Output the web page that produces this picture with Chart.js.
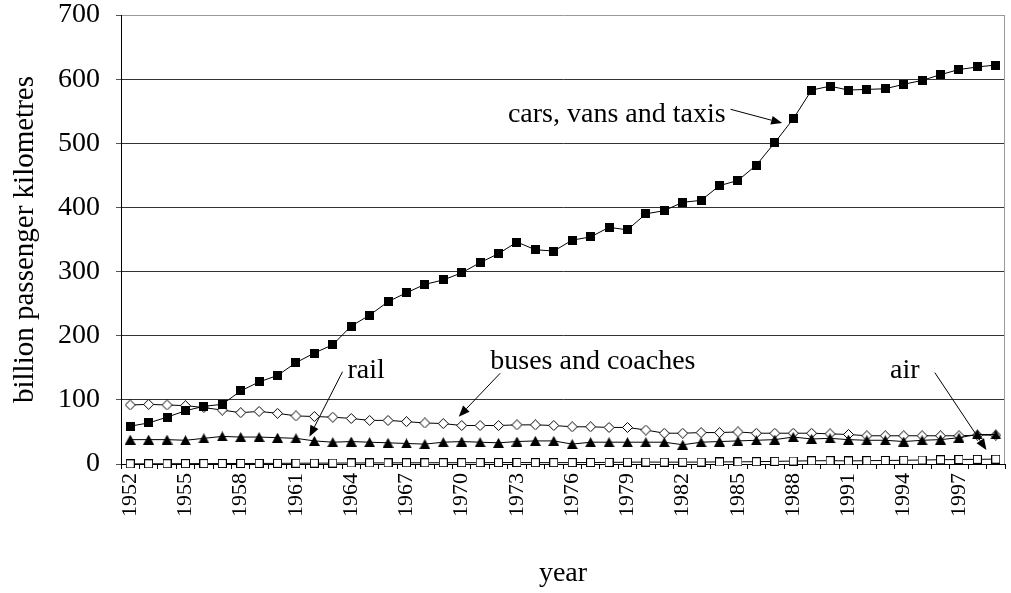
<!DOCTYPE html>
<html lang="en">
<head>
<meta charset="UTF-8">
<title>Passenger transport by mode, 1952-1999</title>
<script src="https://cdn.jsdelivr.net/npm/chart.js@4.4.0/dist/chart.umd.min.js"></script>
<style>
  html, body { margin: 0; padding: 0; background: #fff; }
  #wrap { width: 1011px; height: 593px; position: relative; }
</style>
</head>
<body>
<div id="wrap"><canvas id="chart"></canvas></div>
<script>
// years on the category axis
const years = [];
for (let y = 1952; y <= 1999; y++) years.push(String(y));
const tickYears = ['1952', '1955', '1958', '1961', '1964', '1967', '1970', '1973',
                   '1976', '1979', '1982', '1985', '1988', '1991', '1994', '1997'];

// billion passenger kilometres
const cars = [59, 64, 73, 83, 90, 93, 114, 128, 138, 158,
              173, 186, 215, 232, 253, 267, 280, 287, 298, 314,
              328, 346, 334, 332, 349, 354, 369, 365, 390, 395,
              408, 411, 434, 442, 466, 501, 538, 583, 589, 583,
              584, 585, 592, 598, 607, 615, 619, 622];
const buses = [92, 93, 92, 91, 88, 84, 80, 82, 79, 75,
               74, 73, 71, 68, 68, 66, 64, 63, 60, 60,
               60, 61, 61, 60, 58, 58, 57, 57, 53, 48,
               48, 49, 49, 50, 48, 48, 48, 48, 47, 46,
               44, 44, 44, 44, 44, 44, 45, 45];
const rail = [38, 38, 38, 37, 40, 43, 42, 42, 41, 40,
              36, 34, 35, 34, 33, 32, 31, 34, 35, 34,
              33, 35, 36, 36, 31, 34, 34, 34, 34, 34,
              30, 34, 35, 36, 37, 38, 42, 39, 40, 38,
              37, 37, 35, 37, 38, 41, 46, 46];
const air = [0.2, 0.3, 0.4, 0.5, 0.6, 0.7, 0.8, 0.9, 1.0, 1.2,
             1.3, 1.4, 1.6, 1.7, 1.8, 1.9, 1.9, 2.0, 2.0, 2.1,
             2.2, 2.3, 2.1, 2.1, 2.2, 2.3, 2.5, 2.8, 3.0, 2.9,
             2.9, 3.0, 3.2, 3.4, 3.6, 4.1, 4.6, 5.0, 5.2, 4.8,
             5.2, 5.5, 5.8, 6.2, 6.6, 7.0, 7.3, 7.6];

const FONT = "'Liberation Serif', 'Times New Roman', serif";

// labels with arrows, placed in (year index, value) coordinates
const notes = [
  { text: 'cars, vans and taxis', at: [32.33, 533.7], align: 'right', from: [32.6, 553], to: [35.4, 531.5] },
  { text: 'rail', at: [11.8, 133.6], align: 'left', from: [11.53, 143.9], to: [9.73, 42.6] },
  { text: 'buses and coaches', at: [19.55, 147.6], align: 'left', from: [20.09, 141.5], to: [17.84, 73.8] },
  { text: 'air', at: [41.26, 133.6], align: 'left', from: [43.69, 142.4], to: [46.49, 21.8] }
];

// small marker bitmaps
function marker(w, h, paint) {
  const c = document.createElement('canvas');
  c.width = w; c.height = h;
  paint(c.getContext('2d'), w, h);
  return c;
}
const squareFilled = marker(9, 9, (g, w, h) => { g.fillStyle = '#000'; g.fillRect(0, 0, w, h); });
const squareOpen = marker(9, 9, (g, w, h) => {
  g.fillStyle = '#fff'; g.fillRect(0, 0, w, h);
  g.strokeStyle = '#000'; g.lineWidth = 1; g.strokeRect(0.5, 0.5, w - 1, h - 1);
});
const diamondOpen = marker(11, 11, (g, w, h) => {
  g.beginPath();
  g.moveTo(w / 2, 0.5); g.lineTo(w - 0.5, h / 2); g.lineTo(w / 2, h - 0.5); g.lineTo(0.5, h / 2);
  g.closePath();
  g.fillStyle = '#fff'; g.fill();
  g.strokeStyle = '#000'; g.lineWidth = 1; g.stroke();
});
const triangleFilled = marker(11, 10, (g, w, h) => {
  g.beginPath(); g.moveTo(w / 2, 0); g.lineTo(w, h); g.lineTo(0, h); g.closePath();
  g.fillStyle = '#000'; g.fill();
});

const notesPlugin = {
  id: 'notes',
  afterDatasetsDraw(chart) {
    const { ctx, chartArea, scales: { x, y } } = chart;
    ctx.save();
    // right edge of the plot area
    ctx.strokeStyle = '#999';
    ctx.lineWidth = 1;
    ctx.beginPath();
    ctx.moveTo(Math.round(chartArea.right) - 0.5, chartArea.top);
    ctx.lineTo(Math.round(chartArea.right) - 0.5, chartArea.bottom);
    ctx.stroke();

    ctx.fillStyle = '#000';
    ctx.strokeStyle = '#000';
    ctx.font = '28px ' + FONT;
    ctx.textBaseline = 'alphabetic';
    notes.forEach(n => {
      ctx.textAlign = n.align;
      ctx.fillText(n.text, x.getPixelForValue(n.at[0]), y.getPixelForValue(n.at[1]));
      const x1 = x.getPixelForValue(n.from[0]), y1 = y.getPixelForValue(n.from[1]);
      const x2 = x.getPixelForValue(n.to[0]), y2 = y.getPixelForValue(n.to[1]);
      const a = Math.atan2(y2 - y1, x2 - x1);
      const len = 11, half = 4.5;
      const bx = x2 - len * Math.cos(a), by = y2 - len * Math.sin(a);
      ctx.beginPath();
      ctx.moveTo(x1, y1);
      ctx.lineTo(bx, by);
      ctx.stroke();
      ctx.beginPath();
      ctx.moveTo(x2, y2);
      ctx.lineTo(bx + half * Math.sin(a), by - half * Math.cos(a));
      ctx.lineTo(bx - half * Math.sin(a), by + half * Math.cos(a));
      ctx.closePath();
      ctx.fill();
    });
    ctx.restore();
  }
};

function series(label, data, style, order) {
  return {
    label, data, order,
    borderColor: '#000',
    borderWidth: 1,
    tension: 0,
    pointStyle: style,
    pointRadius: 5,
    pointHoverRadius: 5,
    clip: false
  };
}

new Chart(document.getElementById('chart'), {
  type: 'line',
  data: {
    labels: years,
    datasets: [
      series('cars, vans and taxis', cars, squareFilled, 1),
      series('rail', rail, triangleFilled, 2),
      series('buses and coaches', buses, diamondOpen, 3),
      series('air', air, squareOpen, 4)
    ]
  },
  options: {
    responsive: true,
    maintainAspectRatio: false,
    animation: false,
    layout: { padding: { left: 0, right: 2, top: 15, bottom: 0 } },
    plugins: {
      legend: { display: false },
      tooltip: { enabled: false }
    },
    scales: {
      x: {
        offset: true,
        grid: {
          offset: true,
          drawOnChartArea: false,
          drawTicks: true,
          tickLength: 5,
          color: '#000'
        },
        border: { display: true, color: '#000', width: 1 },
        ticks: {
          autoSkip: false,
          minRotation: 90,
          maxRotation: 90,
          padding: 4,
          color: '#000',
          font: { family: FONT, size: 22 },
          callback(value, index) {
            const lab = years[index];
            return tickYears.includes(lab) ? lab : '';
          }
        },
        title: {
          display: true,
          text: 'year',
          color: '#000',
          font: { family: FONT, size: 28 },
          padding: { top: 0, bottom: 3 }
        },
        afterFit(scale) {
          scale.height = 129;
          scale.paddingLeft = 0;
          scale.paddingRight = 0;
        }
      },
      y: {
        min: 0,
        max: 700,
        grid: {
          color: ctx => (ctx.tick && ctx.tick.value === 700 ? '#999' : '#333'),
          tickColor: '#555',
          tickLength: 5,
          lineWidth: 1
        },
        border: { display: true, color: '#000', width: 1 },
        ticks: {
          stepSize: 100,
          padding: 16,
          color: '#000',
          font: { family: FONT, size: 28, lineHeight: 1 }
        },
        title: {
          display: true,
          text: 'billion passenger kilometres',
          color: '#000',
          font: { family: FONT, size: 29 },
          padding: { top: 8, bottom: 0 }
        },
        afterFit(scale) {
          scale.width = 121;
          scale.paddingTop = 0;
          scale.paddingBottom = 0;
        }
      }
    }
  },
  plugins: [notesPlugin]
});
</script>
</body>
</html>
